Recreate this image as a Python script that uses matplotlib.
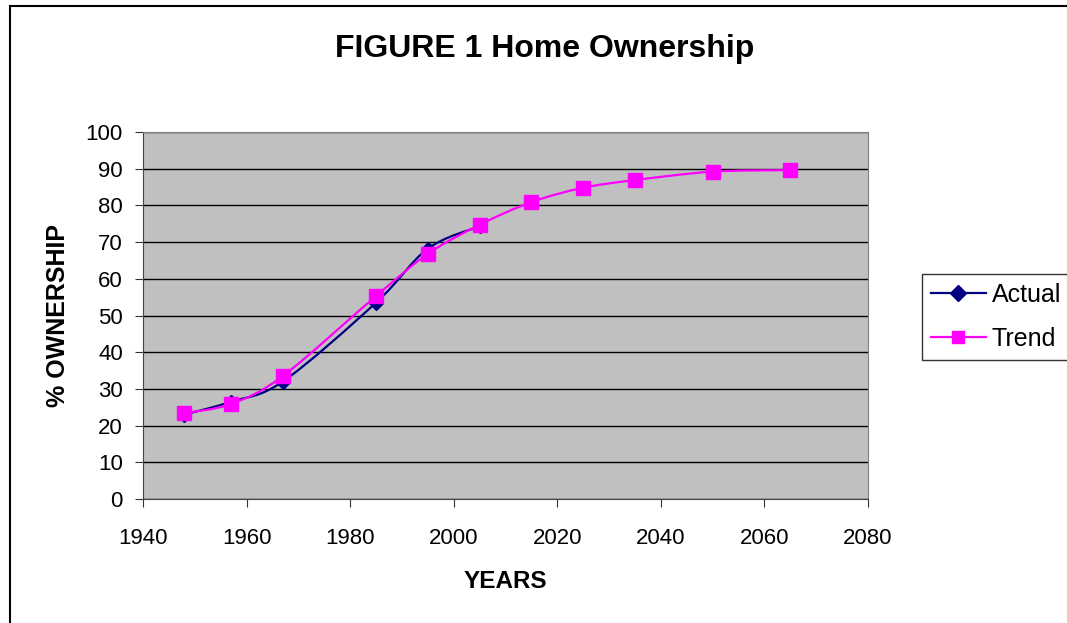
import numpy as np
import matplotlib.pyplot as plt
from matplotlib.path import Path
from matplotlib.patches import PathPatch, Rectangle
from matplotlib.lines import Line2D

plt.rcParams['font.family'] = ['Liberation Sans', 'DejaVu Sans']

# home ownership data (%)
actual_years = [1948, 1957, 1967, 1985, 1995, 2005]
actual_pct = [23.0, 26.5, 32.0, 53.5, 68.2, 74.3]

trend_years = [1948, 1957, 1967, 1985, 1995, 2005, 2015, 2025, 2035, 2050, 2065]
trend_pct = [23.4, 25.9, 33.5, 55.3, 66.8, 74.7, 80.9, 84.8, 86.9, 89.2, 89.6]


def smooth_path(xs, ys):
    # Catmull-Rom style cubic bezier through the points (like a spreadsheet smoothed line)
    pts = np.column_stack([xs, ys]).astype(float)
    n = len(pts)
    verts = [pts[0]]
    codes = [Path.MOVETO]
    for i in range(n - 1):
        p0 = pts[i - 1] if i > 0 else pts[i]
        p1 = pts[i]
        p2 = pts[i + 1]
        p3 = pts[i + 2] if i + 2 < n else pts[i + 1]
        c1 = p1 + (p2 - p0) / 6.0
        c2 = p2 - (p3 - p1) / 6.0
        verts += [c1, c2, p2]
        codes += [Path.CURVE4] * 3
    return Path(verts, codes)


fig = plt.figure(figsize=(10.67, 6.23), dpi=100)
fig.patches.append(Rectangle((10 / 1067, -0.05), 1.1, 1.05 - 6 / 623,
                             transform=fig.transFigure, fill=False,
                             edgecolor='black', linewidth=1.5))

ax = fig.add_axes([143 / 1067, 1 - 499 / 623, 725 / 1067, 367 / 623])
ax.set_facecolor('#c0c0c0')

navy = '#000080'
magenta = '#ff00ff'

ax.add_patch(PathPatch(smooth_path(actual_years, actual_pct), fill=False,
                       edgecolor=navy, linewidth=1.6, zorder=3))
ax.plot(actual_years, actual_pct, linestyle='none', marker='D', markersize=7,
        color=navy, zorder=4)
ax.add_patch(PathPatch(smooth_path(trend_years, trend_pct), fill=False,
                       edgecolor=magenta, linewidth=1.6, zorder=5))
ax.plot(trend_years, trend_pct, linestyle='none', marker='s', markersize=10,
        color=magenta, zorder=6)

ax.set_xlim(1940, 2080)
ax.set_ylim(0, 100)
ax.set_xticks(range(1940, 2081, 20))
ax.set_yticks(range(0, 101, 10))
ax.grid(axis='y', color='black', linewidth=1)
ax.set_axisbelow(True)
ax.tick_params(labelsize=16, length=6, color='#333333')
ax.tick_params(axis='x', pad=15)
ax.tick_params(axis='y', pad=8.5)
for side in ['left', 'bottom']:
    ax.spines[side].set_color('#444444')
for side in ['right', 'top']:
    ax.spines[side].set_color('#808080')

ax.set_xlabel('YEARS', fontsize=17.5, fontweight='bold', labelpad=15)
ax.set_ylabel('% OWNERSHIP', fontsize=18, fontweight='bold', labelpad=11)
fig.text(545 / 1067, 1 - 49 / 623, 'FIGURE 1 Home Ownership', ha='center',
         va='center', fontsize=23, fontweight='bold')

handles = [Line2D([], [], color=navy, marker='D', markersize=8, linewidth=1.6),
           Line2D([], [], color=magenta, marker='s', markersize=9, linewidth=1.6)]
leg = fig.legend(handles, ['Actual', 'Trend'], loc='upper left',
                 bbox_to_anchor=(922 / 1067, 1 - 274 / 623), fontsize=18,
                 frameon=True, fancybox=False, edgecolor='black',
                 handlelength=2.2, handletextpad=0.25, borderpad=0.35,
                 labelspacing=0.8, borderaxespad=0)
leg.get_frame().set_linewidth(1)

fig.savefig('out.png', dpi=100)
